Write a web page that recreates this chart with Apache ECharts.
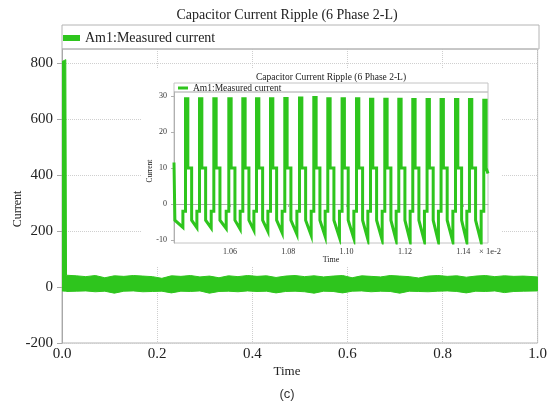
<!DOCTYPE html>
<html>
<head>
<meta charset="utf-8">
<script src="https://cdn.jsdelivr.net/npm/echarts@6/dist/echarts.min.js"></script>
<style>
  html, body { margin: 0; padding: 0; background: #ffffff; }
  #chart { width: 550px; height: 408px; }
</style>
</head>
<body>
<div id="chart"></div>
<script>
// ---- Full run (time in s): envelope of the measured capacitor current ----
const bandTime = [0, 0.008, 0.0095,
  0.03, 0.05, 0.07, 0.09, 0.11, 0.13, 0.15, 0.17, 0.19, 0.21, 0.23, 0.25,
  0.27, 0.29, 0.31, 0.33, 0.35, 0.37, 0.39, 0.41, 0.43, 0.45, 0.47, 0.49,
  0.51, 0.53, 0.55, 0.57, 0.59, 0.61, 0.63, 0.65, 0.67, 0.69, 0.71, 0.73,
  0.75, 0.77, 0.79, 0.81, 0.83, 0.85, 0.87, 0.89, 0.91, 0.93, 0.95, 0.97, 1.0];
const bandHigh = [805, 812, 42,
  40, 37, 41, 33, 40, 38, 41, 39, 37, 31, 40, 38,
  41, 36, 39, 33, 40, 37, 41, 38, 40, 34, 39, 41,
  37, 40, 36, 39, 41, 33, 40, 38, 36, 41, 39, 37,
  32, 39, 41, 38, 40, 35, 39, 41, 37, 40, 38, 39, 36];
const bandLow = [-14, -15, -16,
  -15, -14, -17, -15, -22, -15, -14, -17, -16, -15, -21, -15,
  -16, -14, -22, -16, -15, -17, -14, -16, -15, -21, -16, -15,
  -17, -22, -15, -16, -21, -15, -14, -17, -15, -16, -22, -15,
  -16, -17, -15, -14, -16, -21, -15, -16, -14, -20, -16, -15, -14];

// ---- Zoomed window (time in units of 1e-2 s) ----
const pulseTime = [1.04515, 1.04995, 1.05486, 1.06000, 1.06480, 1.06950, 1.07430,
  1.07920, 1.08425, 1.08915, 1.09395, 1.09885, 1.10379, 1.10859, 1.11350,
  1.11830, 1.12310, 1.12800, 1.13280, 1.13775, 1.14254, 1.14745];
const pulsePeak = [29.2, 29.2, 29.2, 29.2, 29.2, 29.2, 29.2, 29.3, 29.4, 29.6, 29.2,
  29.2, 29.2, 29.1, 29.1, 29.1, 29.0, 29.0, 29.0, 29.0, 29.0, 28.8];
const pulseTrough = [-6.5, -6.6, -6.7, -6.8, -7.0, -7.3, -7.6, -8.0, -8.4, -8.7, -9.0,
  -9.3, -9.6, -9.8, -10.0, -10.1, -10.3, -10.4, -10.5, -10.5, -10.6, -10.6];
const stepLevel = -2;       // short plateau before each rise
const shoulderLevel = 10;   // plateau after each peak
const releaseLevel = -4.5;  // level reached when the shoulder falls
const riseLead = 0.0013, peakHalf = 0.0004, shoulderEnd = 0.0017;
const leadTime = [1.0408, 1.0411, 1.0411];
const leadValue = [11.5, 11.2, -4.5];
const tailTime = [1.1485];
const tailValue = [8.5];

// ---- Tick labels ----
const mainXTicks = [0, 0.2, 0.4, 0.6, 0.8, 1.0];
const mainYTicks = [-200, 0, 200, 400, 600, 800];
const insetXTicks = [1.06, 1.08, 1.10, 1.12, 1.14];
const insetYTicks = [-10, 0, 10, 20, 30];

const seriesName = 'Am1:Measured current';
const green = '#2ec51d';
const serif = 'Liberation Serif';

// envelope rows: time, upper edge, lower edge
const bandData = bandTime.map((t, i) => [t, bandHigh[i], bandLow[i]]);

// zoomed waveform vertices
const insetData = leadTime.map((t, i) => [t, leadValue[i]]);
pulseTime.forEach((t, i) => {
  const tr = pulseTrough[i], pk = pulsePeak[i];
  insetData.push(
    [t - riseLead, tr], [t - riseLead, stepLevel],
    [t - peakHalf, stepLevel], [t - peakHalf, pk],
    [t + peakHalf, pk], [t + peakHalf, shoulderLevel]
  );
  if (i < pulseTime.length - 1) {
    insetData.push([t + shoulderEnd, shoulderLevel], [t + shoulderEnd, releaseLevel]);
  }
});
tailTime.forEach((t, i) => insetData.push([t, tailValue[i]]));

// filled envelope: the first item draws one closed polygon through every row
function renderBand(params, api) {
  if (params.dataIndex !== 0) return null;
  const upper = bandData.map(r => api.coord([r[0], r[1]]));
  const lower = bandData.map(r => api.coord([r[0], r[2]])).reverse();
  return {
    type: 'polygon',
    shape: { points: upper.concat(lower) },
    style: { fill: green, stroke: green, lineWidth: 1 }
  };
}

function txt(text, x, y, size, opts) {
  opts = opts || {};
  return {
    type: 'text', x: x, y: y, z: opts.z || 5, rotation: opts.rotation || 0,
    style: {
      text: text, fill: opts.color || '#222',
      font: size + 'px "' + (opts.family || serif) + '"',
      align: 'center', verticalAlign: 'middle',
      textAlign: 'center', textVerticalAlign: 'middle'
    }
  };
}

const chart = echarts.init(document.getElementById('chart'));
chart.setOption({
  animation: false,
  color: [green],
  grid: [
    { left: 62, right: 11, top: 49, bottom: 65, show: true, borderColor: '#b4b4b4', borderWidth: 1 },
    { left: 174, right: 62, top: 92, bottom: 165, show: true, borderColor: '#c4c4c4', borderWidth: 1, z: 11 }
  ],
  legend: [
    {
      data: [seriesName], left: 63, top: 31, padding: 0, icon: 'rect',
      itemWidth: 17, itemHeight: 6, itemGap: 8,
      textStyle: { fontFamily: serif, fontSize: 14, color: '#222' }
    },
    {
      data: [seriesName], left: 178, top: 83, padding: 0, icon: 'rect', z: 12,
      itemWidth: 10, itemHeight: 3, itemGap: 5,
      textStyle: { fontFamily: serif, fontSize: 9.5, color: '#222' }
    }
  ],
  xAxis: [
    {
      type: 'value', gridIndex: 0, min: 0, max: 1, interval: 0.2,
      axisLine: { lineStyle: { color: '#a8a8a8' } },
      axisTick: { show: true, length: 4, lineStyle: { color: '#a8a8a8' }, customValues: mainXTicks },
      axisLabel: { margin: 4, fontFamily: serif, fontSize: 15, color: '#222',
        customValues: mainXTicks, formatter: v => v.toFixed(1) },
      splitLine: { show: true, lineStyle: { type: 'dotted', color: '#cfcfcf' } }
    },
    {
      type: 'value', gridIndex: 1, min: 1.0408, max: 1.1485, z: 11,
      axisLine: { lineStyle: { color: '#b0b0b0' } },
      axisTick: { show: true, length: 3, lineStyle: { color: '#b0b0b0' }, customValues: insetXTicks },
      axisLabel: { margin: 5, fontFamily: serif, fontSize: 8, color: '#333',
        customValues: insetXTicks, formatter: v => v.toFixed(2) },
      splitLine: { show: false }
    }
  ],
  yAxis: [
    {
      type: 'value', gridIndex: 0, min: -200, max: 850, interval: 200,
      axisLine: { show: true, lineStyle: { color: '#a8a8a8' } },
      axisTick: { show: true, length: 5, lineStyle: { color: '#a8a8a8' }, customValues: mainYTicks },
      axisLabel: { margin: 9, fontFamily: serif, fontSize: 15, color: '#222',
        customValues: mainYTicks },
      splitLine: { show: true, lineStyle: { type: 'dotted', color: '#cfcfcf' } }
    },
    {
      type: 'value', gridIndex: 1, min: -10.83, max: 31.1, z: 11,
      axisLine: { show: true, lineStyle: { color: '#b0b0b0' } },
      axisTick: { show: true, length: 3, lineStyle: { color: '#b0b0b0' }, customValues: insetYTicks },
      axisLabel: { margin: 7, fontFamily: serif, fontSize: 8, color: '#333', customValues: insetYTicks },
      splitLine: { show: false }
    }
  ],
  graphic: [
    // legend strip above the main plot
    { type: 'rect', z: 1, shape: { x: 62, y: 25, width: 477, height: 24 },
      style: { fill: 'none', stroke: '#b4b4b4', lineWidth: 1 } },
    // inset panel background
    { type: 'rect', z: 10, shape: { x: 142, y: 68, width: 360, height: 198 },
      style: { fill: '#ffffff', stroke: 'none' } },
    // legend strip above the inset plot
    { type: 'rect', z: 11, shape: { x: 174, y: 83, width: 314, height: 9 },
      style: { fill: 'none', stroke: '#c4c4c4', lineWidth: 1 } },
    txt('Capacitor Current Ripple (6 Phase 2-L)', 287, 15, 14),
    txt('Current', 18, 209, 12, { rotation: Math.PI / 2 }),
    txt('Time', 287, 372, 13),
    txt('(c)', 287, 394, 13, { family: 'Liberation Sans', color: '#333' }),
    txt('Capacitor Current Ripple (6 Phase 2-L)', 331, 77, 9.5, { z: 13 }),
    txt('Current', 150, 171, 7.5, { z: 13, rotation: Math.PI / 2 }),
    txt('Time', 331, 260, 8, { z: 13 }),
    txt('\u00d7 1e-2', 490, 251.5, 8.5, { z: 13, color: '#333' })
  ],
  series: [
    {
      name: seriesName, type: 'custom', xAxisIndex: 0, yAxisIndex: 0, clip: true,
      data: bandData, encode: { x: 0, y: [1, 2] },
      renderItem: renderBand, itemStyle: { color: green }
    },
    {
      name: seriesName, type: 'line', xAxisIndex: 1, yAxisIndex: 1, z: 12,
      data: insetData, showSymbol: false, symbol: 'none',
      lineStyle: { color: green, width: 3, join: 'miter' }, itemStyle: { color: green }
    }
  ]
});
</script>
</body>
</html>
